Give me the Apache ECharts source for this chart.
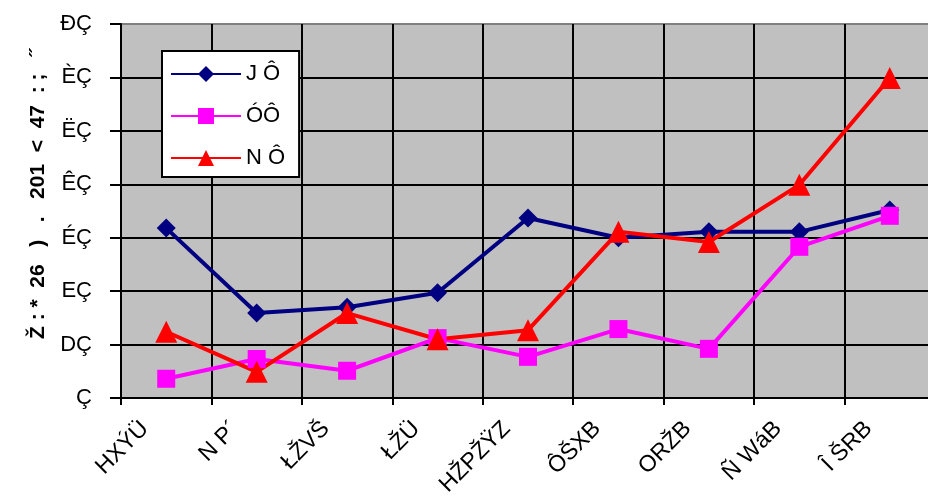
<!DOCTYPE html>
<html>
<head>
<meta charset="utf-8">
<script src="https://cdn.jsdelivr.net/npm/echarts@6/dist/echarts.min.js"></script>
<style>
html,body{margin:0;padding:0;background:#fff;}
#chart{width:928px;height:497px;}
</style>
</head>
<body>
<div id="chart"></div>
<script>
const categories = ['HXÝÜ', 'N P´', 'ŁŽVŠ', 'ŁŽÜ', 'HŽPŽŸZ', 'ÔŠXB', 'ORŽB', 'Ñ WáB', 'Î ŠRB'];
const yTickLabels = ['Ç', 'DÇ', 'EÇ', 'ÉÇ', 'ÊÇ', 'ËÇ', 'ÈÇ', 'ĐÇ'];
const seriesNames = ['J Ô', 'ÓÔ', 'N Ô'];
const navyValues = [3.18, 1.59, 1.70, 1.97, 3.37, 3.00, 3.11, 3.11, 3.52];
const magentaValues = [0.36, 0.73, 0.51, 1.12, 0.77, 1.29, 0.92, 2.83, 3.41];
const redValues = [1.24, 0.49, 1.59, 1.10, 1.27, 3.11, 2.92, 3.99, 5.99];
const yTitle = 'Ž : *  26   )   .   201  <  47  : ;   ˝';

const font = '"Liberation Sans", Arial, sans-serif';
const chart = echarts.init(document.getElementById('chart'));
chart.setOption({
  animation: false,
  backgroundColor: '#ffffff',
  textStyle: {fontFamily: font},
  grid: {left: 121, top: 24, bottom: 99, right: -7, show: true, backgroundColor: '#c0c0c0', borderWidth: 0,
    outerBoundsMode: 'none', containLabel: false},
  legend: {
    orient: 'vertical', left: 162, top: 51,
    backgroundColor: '#ffffff', borderColor: '#000', borderWidth: 2,
    padding: [12, 14, 8, 8], itemGap: 20, itemWidth: 70, itemHeight: 20,
    textStyle: {fontSize: 22, color: '#000', fontFamily: font},
    data: seriesNames
  },
  xAxis: {
    type: 'category', data: categories, boundaryGap: true,
    axisLine: {lineStyle: {color: '#000', width: 2}},
    axisTick: {show: true, length: 7, lineStyle: {color: '#000', width: 2}},
    splitLine: {show: true, lineStyle: {color: '#000', width: 2}},
    axisLabel: {rotate: 45, fontSize: 23, color: '#000', margin: 6, interval: 0, fontFamily: font,
      padding: [0, 30, 0, 0]}
  },
  yAxis: {
    type: 'value', min: 0, max: 7, interval: 1,
    name: yTitle, nameLocation: 'middle', nameGap: 72, nameRotate: 90,
    nameTextStyle: {fontSize: 21, fontWeight: 'bold', color: '#000', fontFamily: font, padding: [0, 0, 0, 34]},
    axisLine: {show: true, lineStyle: {color: '#000', width: 2}},
    axisTick: {show: true, length: 11, lineStyle: {color: '#000', width: 2}},
    splitLine: {show: true, lineStyle: {color: ['#000','#000','#000','#000','#000','#000','#000','#808080'], width: 2}},
    axisLabel: {fontSize: 22, color: '#000', margin: 29, fontFamily: font,
      formatter: v => yTickLabels[Math.round(v)]}
  },
  series: [
    {name: seriesNames[0], type: 'line', data: navyValues, symbol: 'diamond', symbolSize: 19,
     itemStyle: {color: '#000080'}, lineStyle: {color: '#000080', width: 4}},
    {name: seriesNames[1], type: 'line', data: magentaValues, symbol: 'rect', symbolSize: 18,
     itemStyle: {color: '#ff00ff'}, lineStyle: {color: '#ff00ff', width: 4}},
    {name: seriesNames[2], type: 'line', data: redValues, symbol: 'triangle', symbolSize: 22,
     itemStyle: {color: '#ff0000'}, lineStyle: {color: '#ff0000', width: 4}}
  ]
});
</script>
</body>
</html>
